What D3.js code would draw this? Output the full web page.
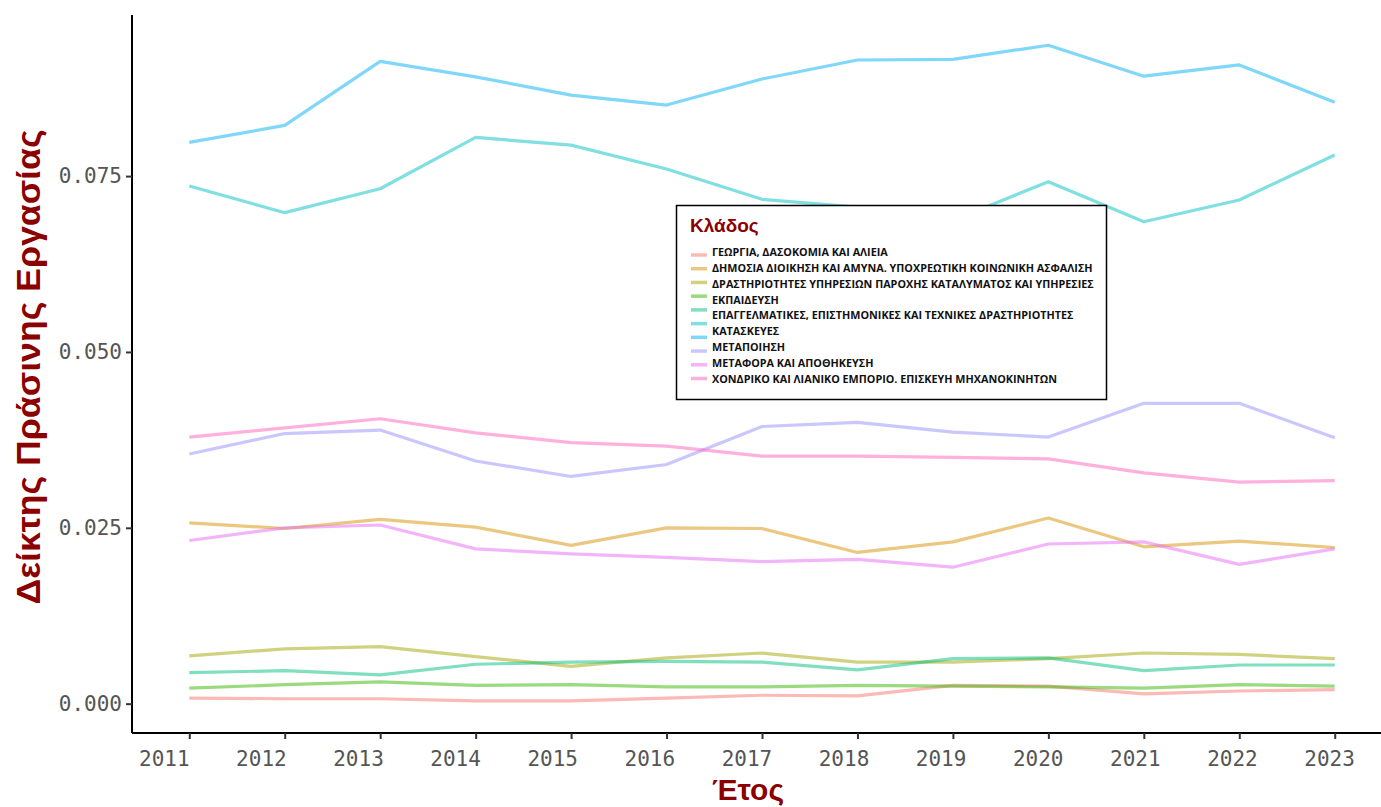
<!DOCTYPE html>
<html>
<head>
<meta charset="utf-8">
<script src="https://cdn.jsdelivr.net/npm/d3@7"></script>
<style>
  html, body { margin: 0; padding: 0; background: #fff; }
  svg { display: block; }
</style>
</head>
<body>
<svg id="chart" width="1381" height="807"></svg>
<script>
// ---------- data ----------
const years = [2011, 2012, 2013, 2014, 2015, 2016, 2017, 2018, 2019, 2020, 2021, 2022, 2023];
const yTicks = [0, 0.025, 0.05, 0.075];

const legendLabels = [
  "ΓΕΩΡΓΙΑ, ΔΑΣΟΚΟΜΙΑ ΚΑΙ ΑΛΙΕΙΑ",
  "ΔΗΜΟΣΙΑ ΔΙΟΙΚΗΣΗ ΚΑΙ ΑΜΥΝΑ. ΥΠΟΧΡΕΩΤΙΚΗ ΚΟΙΝΩΝΙΚΗ ΑΣΦΑΛΙΣΗ",
  "ΔΡΑΣΤΗΡΙΟΤΗΤΕΣ ΥΠΗΡΕΣΙΩΝ ΠΑΡΟΧΗΣ ΚΑΤΑΛΥΜΑΤΟΣ ΚΑΙ ΥΠΗΡΕΣΙΕΣ",
  "ΕΚΠΑΙΔΕΥΣΗ",
  "ΕΠΑΓΓΕΛΜΑΤΙΚΕΣ, ΕΠΙΣΤΗΜΟΝΙΚΕΣ ΚΑΙ ΤΕΧΝΙΚΕΣ ΔΡΑΣΤΗΡΙΟΤΗΤΕΣ",
  "ΚΑΤΑΣΚΕΥΕΣ",
  "ΜΕΤΑΠΟΙΗΣΗ",
  "ΜΕΤΑΦΟΡΑ ΚΑΙ ΑΠΟΘΗΚΕΥΣΗ",
  "ΧΟΝΔΡΙΚΟ ΚΑΙ ΛΙΑΝΙΚΟ ΕΜΠΟΡΙΟ. ΕΠΙΣΚΕΥΗ ΜΗΧΑΝΟΚΙΝΗΤΩΝ"
];

// ten series are drawn (ten colour keys in the legend)
const seriesColors = ["#F8766D", "#D89000", "#A3A500", "#39B600", "#00BF7D",
                      "#00BFC4", "#00B0F6", "#9590FF", "#E76BF3", "#FF62BC"];

const s01 = [0.0008, 0.0007, 0.0007, 0.0004, 0.0004, 0.0008, 0.0012, 0.0011, 0.0026, 0.0025, 0.0014, 0.0018, 0.0020];
const s02 = [0.0257, 0.0249, 0.0262, 0.0251, 0.0225, 0.0250, 0.0249, 0.0215, 0.0230, 0.0264, 0.0223, 0.0231, 0.0222];
const s03 = [0.0068, 0.0078, 0.0081, 0.0067, 0.0053, 0.0065, 0.0072, 0.0059, 0.0059, 0.0064, 0.0072, 0.0070, 0.0064];
const s04 = [0.0022, 0.0027, 0.0031, 0.0026, 0.0027, 0.0024, 0.0024, 0.0026, 0.0025, 0.0024, 0.0022, 0.0027, 0.0025];
const s05 = [0.0044, 0.0047, 0.0041, 0.0056, 0.0059, 0.0060, 0.0059, 0.0048, 0.0064, 0.0065, 0.0047, 0.0055, 0.0055];
const s06 = [0.0736, 0.0698, 0.0732, 0.0805, 0.0794, 0.0760, 0.0717, 0.0706, 0.0687, 0.0742, 0.0685, 0.0716, 0.0780];
const s07 = [0.0798, 0.0822, 0.0913, 0.0891, 0.0865, 0.0851, 0.0888, 0.0915, 0.0916, 0.0936, 0.0892, 0.0908, 0.0855];
const s08 = [0.0355, 0.0384, 0.0389, 0.0345, 0.0323, 0.0340, 0.0394, 0.0400, 0.0386, 0.0379, 0.0427, 0.0427, 0.0378];
const s09 = [0.0232, 0.0250, 0.0254, 0.0220, 0.0213, 0.0208, 0.0202, 0.0205, 0.0194, 0.0227, 0.0230, 0.0198, 0.0220];
const s10 = [0.0379, 0.0392, 0.0405, 0.0385, 0.0371, 0.0366, 0.0352, 0.0352, 0.0350, 0.0348, 0.0328, 0.0315, 0.0317];

const seriesValues = [s01, s02, s03, s04, s05, s06, s07, s08, s09, s10];

// ---------- layout ----------
const svg = d3.select("#chart");
const plotLeft = 132, plotRight = 1392, plotTop = 15, plotBottom = 733;

const x = d3.scaleLinear().domain([2010.4, 2023.6]).range([plotLeft, plotRight]);
const y = d3.scaleLinear().domain([-0.00417, 0.0979]).range([plotBottom, plotTop]);

// ---------- lines ----------
const line = d3.line().x((d, i) => x(years[i])).y(d => y(d));
svg.append("g").selectAll("path")
  .data(seriesValues)
  .join("path")
  .attr("d", d => line(d))
  .attr("fill", "none")
  .attr("stroke", (d, i) => seriesColors[i])
  .attr("stroke-opacity", 0.5)
  .attr("stroke-width", 3.2)
  .attr("stroke-linejoin", "round");

// ---------- axes ----------
const monoFont = "'DejaVu Sans Mono', 'Liberation Mono', monospace";

const yAxis = svg.append("g")
  .attr("transform", `translate(${plotLeft},0)`)
  .call(d3.axisLeft(y).tickValues(yTicks).tickFormat(d3.format(".3f")).tickSize(6).tickSizeOuter(0));
yAxis.select(".domain").attr("stroke", "#000").attr("stroke-width", 2)
  .attr("d", `M0,${plotTop}V${plotBottom}`);
yAxis.selectAll(".tick line").attr("stroke", "#333").attr("stroke-width", 2);
yAxis.selectAll(".tick text")
  .attr("font-family", monoFont).attr("font-size", 21).attr("fill", "#555")
  .attr("x", -10);

const xAxis = svg.append("g")
  .attr("transform", `translate(0,${plotBottom})`)
  .call(d3.axisBottom(x).tickValues(years).tickFormat(d3.format("d")).tickSize(6).tickSizeOuter(0));
xAxis.select(".domain").attr("stroke", "#000").attr("stroke-width", 2)
  .attr("d", `M${plotLeft},0H1381`);
xAxis.selectAll(".tick line").attr("stroke", "#333").attr("stroke-width", 2);
xAxis.selectAll(".tick text")
  .attr("font-family", monoFont).attr("font-size", 21).attr("fill", "#555")
  .attr("y", 18)
  .attr("dy", "0.71em")
  .attr("x", (d, i) => -25.5 + 1.65 * i);

// ---------- axis titles ----------
svg.append("text")
  .attr("transform", "translate(40,367) rotate(-90)")
  .attr("text-anchor", "middle")
  .attr("font-family", "'Liberation Sans', Arial, sans-serif")
  .attr("font-weight", "bold")
  .attr("font-size", 34)
  .attr("fill", "#8B0000")
  .attr("textLength", 475)
  .attr("lengthAdjust", "spacingAndGlyphs")
  .text("Δείκτης Πράσινης Εργασίας");

svg.append("text")
  .attr("x", 748).attr("y", 800)
  .attr("text-anchor", "middle")
  .attr("font-family", "'Liberation Sans', Arial, sans-serif")
  .attr("font-weight", "bold")
  .attr("font-size", 30)
  .attr("fill", "#8B0000")
  .text("Έτος");

// ---------- legend ----------
const lg = svg.append("g");
lg.append("rect")
  .attr("x", 676.5).attr("y", 205.5).attr("width", 430).attr("height", 194)
  .attr("fill", "#fff").attr("stroke", "#000").attr("stroke-width", 1.5);
lg.append("text")
  .attr("x", 690).attr("y", 232)
  .attr("font-family", "'Liberation Sans', Arial, sans-serif")
  .attr("font-weight", "bold").attr("font-size", 19).attr("fill", "#8B0000")
  .text("Κλάδος");

const keyY = d3.scaleLinear().domain([0, seriesColors.length - 1]).range([255, 378.5]);
lg.selectAll("line.key")
  .data(seriesColors)
  .join("line")
  .attr("class", "key")
  .attr("x1", 691).attr("x2", 707)
  .attr("y1", (d, i) => keyY(i)).attr("y2", (d, i) => keyY(i))
  .attr("stroke", d => d).attr("stroke-opacity", 0.5).attr("stroke-width", 3.5);

const labY = d3.scaleLinear().domain([0, legendLabels.length - 1]).range([252, 379]);
lg.selectAll("text.lab")
  .data(legendLabels)
  .join("text")
  .attr("class", "lab")
  .attr("x", 712)
  .attr("y", (d, i) => labY(i))
  .attr("dy", "0.36em")
  .attr("font-family", "'Open Sans', 'Noto Sans', sans-serif")
  .attr("font-weight", "bold").attr("font-size", 10.8).attr("fill", "#111")
  .text(d => d);
</script>
</body>
</html>
